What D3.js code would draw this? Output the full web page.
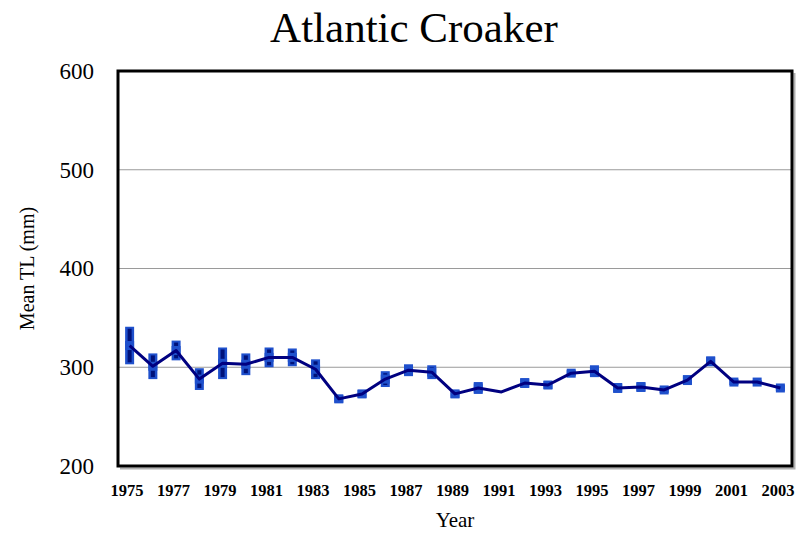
<!DOCTYPE html>
<html>
<head>
<meta charset="utf-8">
<script src="https://cdn.jsdelivr.net/npm/d3@7"></script>
<style>
  body { margin: 0; background: #fff; }
</style>
</head>
<body>
<svg id="chart"></svg>
<script>
var years = d3.range(1975, 2004);
var meanTL = [322, 301, 317, 288, 304, 303, 310, 310, 298, 268, 273, 288, 297, 295, 273,
              279, 275, 284, 282, 294, 296, 279, 280, 277, 287, 306, 285, 285, 279];
var errTL = [18, 12, 9, 10, 15, 10, 9, 8, 9, 3, 3, 7, 5, 6, 3,
             5, 0, 4, 3, 2, 5, 4, 4, 2, 4, 4, 2, 1, 2];
var yTicks = [200, 300, 400, 500, 600];
var xLabels = years.filter(y => y % 2 === 1);

var width = 807, height = 534;
var plot = { left: 118, right: 792, top: 71, bottom: 466 };
var serif = '"Liberation Serif", "Times New Roman", Times, serif';

var svg = d3.select('#chart')
            .attr('width', width)
            .attr('height', height);

var data = years.map((y, i) => ({ year: y, mean: meanTL[i], err: errTL[i] }));

var x = d3.scalePoint()
          .domain(years)
          .range([plot.left, plot.right])
          .padding(0.5);

var y = d3.scaleLinear()
          .domain([200, 600])
          .range([plot.bottom, plot.top]);

// gridlines
svg.append('g')
    .selectAll('line')
    .data(yTicks.slice(1, -1))
    .enter()
    .append('line')
        .attr('x1', plot.left)
        .attr('x2', plot.right)
        .attr('y1', d => y(d))
        .attr('y2', d => y(d))
        .attr('stroke', '#9a9a9a')
        .attr('stroke-width', 1);

// frame shadow + frame
svg.append('path')
    .attr('d', `M${plot.right + 2.5},${plot.top + 2} V${plot.bottom + 2.5} H${plot.left + 2}`)
    .attr('fill', 'none')
    .attr('stroke', '#b0b0b0')
    .attr('stroke-width', 2);
svg.append('rect')
    .attr('x', plot.left)
    .attr('y', plot.top)
    .attr('width', plot.right - plot.left)
    .attr('height', plot.bottom - plot.top)
    .attr('fill', 'none')
    .attr('stroke', '#000')
    .attr('stroke-width', 3);

// y axis labels
var yAxis = d3.axisLeft(y).tickValues(yTicks).tickSize(0).tickPadding(24);
svg.append('g')
    .attr('transform', `translate(${plot.left},0)`)
    .call(yAxis)
    .call(g => g.select('.domain').remove())
    .selectAll('text')
        .style('font-family', serif)
        .style('font-size', '23px')
        .style('fill', '#000');

// x axis labels (sit a little left of the points, as in the original)
var xAxis = d3.axisBottom(x).tickValues(xLabels).tickSize(0).tickPadding(18);
svg.append('g')
    .attr('transform', `translate(-3,${plot.bottom})`)
    .call(xAxis)
    .call(g => g.select('.domain').remove())
    .selectAll('text')
        .style('font-family', serif)
        .style('font-size', '16.5px')
        .style('font-weight', 'bold')
        .style('fill', '#000');

// error bars
var bars = svg.append('g').selectAll('g')
    .data(data.filter(d => d.err > 0))
    .enter()
    .append('g')
        .attr('transform', d => `translate(${x(d.year)},0)`);
bars.append('rect')
    .attr('x', -4.5)
    .attr('width', 9)
    .attr('y', d => y(d.mean + d.err) - 1)
    .attr('height', d => y(d.mean - d.err) - y(d.mean + d.err) + 2)
    .attr('fill', '#1f50cc');
bars.append('rect')
    .attr('x', -2)
    .attr('width', 4)
    .attr('y', d => y(d.mean + d.err) + 1)
    .attr('height', d => Math.max(0, y(d.mean - d.err) - y(d.mean + d.err) - 2))
    .attr('fill', '#00127a');

// markers
svg.append('g').selectAll('rect')
    .data(data.filter(d => d.err > 0))
    .enter()
    .append('rect')
        .attr('x', d => x(d.year) - 4.5)
        .attr('y', d => y(d.mean) - 4.5)
        .attr('width', 9)
        .attr('height', 9)
        .attr('fill', '#1f50cc');

// line
var line = d3.line()
             .x(d => x(d.year))
             .y(d => y(d.mean));
svg.append('path')
    .datum(data)
    .attr('d', line)
    .attr('fill', 'none')
    .attr('stroke', '#000080')
    .attr('stroke-width', 3)
    .attr('stroke-linejoin', 'round');

// titles
svg.append('text')
    .attr('x', 414)
    .attr('y', 42)
    .attr('text-anchor', 'middle')
    .style('font-family', serif)
    .style('font-size', '43px')
    .text('Atlantic Croaker');

svg.append('text')
    .attr('x', (plot.left + plot.right) / 2)
    .attr('y', 527)
    .attr('text-anchor', 'middle')
    .style('font-family', serif)
    .style('font-size', '21px')
    .text('Year');

svg.append('text')
    .attr('transform', `translate(34,${(plot.top + plot.bottom) / 2}) rotate(-90)`)
    .attr('text-anchor', 'middle')
    .style('font-family', serif)
    .style('font-size', '20px')
    .text('Mean TL (mm)');
</script>
</body>
</html>
